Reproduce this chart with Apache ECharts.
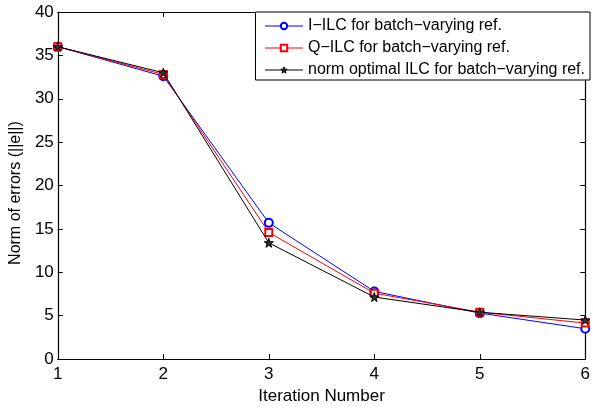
<!DOCTYPE html>
<html>
<head>
<meta charset="utf-8">
<script src="https://cdn.jsdelivr.net/npm/echarts@6/dist/echarts.min.js"></script>
<style>
html,body{margin:0;padding:0;background:#fff;}
#chart{width:593px;height:410px;}
</style>
</head>
<body>
<div id="chart"></div>
<script>
const iterations = [1, 2, 3, 4, 5, 6];
const iIlc = [36.0, 32.6, 15.7, 7.8, 5.3, 3.5];
const qIlc = [36.0, 32.8, 14.6, 7.6, 5.4, 4.15];
const normOpt = [36.0, 33.0, 13.4, 7.15, 5.4, 4.5];
const seriesNames = ['I\u2212ILC for batch\u2212varying ref.', 'Q\u2212ILC for batch\u2212varying ref.', 'norm optimal ILC for batch\u2212varying ref.'];
const yTicks = [0, 5, 10, 15, 20, 25, 30, 35, 40];

const FONT = 'Liberation Sans, Arial, Helvetica, sans-serif';
const star = 'path://M50,0 L61.8,36.2 L100,36.2 L69.1,58.8 L80.9,95.1 L50,72.4 L19.1,95.1 L30.9,58.8 L0,36.2 L38.2,36.2 Z';
const pairs = ys => iterations.map((x, i) => [x, ys[i]]);

const chart = echarts.init(document.getElementById('chart'), null, {renderer: 'canvas'});
const axisLine = {show: true, onZero: false, lineStyle: {color: '#000', width: 1.2}};
const tick = {show: true, inside: true, length: 5, lineStyle: {color: '#000', width: 1}};
chart.setOption({
  animation: false,
  backgroundColor: '#fff',
  grid: {left: 56, right: 3, top: 12, bottom: 46, containLabel: false},
  xAxis: [{
    type: 'value', min: 1, max: 6, interval: 1,
    axisLine: axisLine, axisTick: tick, splitLine: {show: false},
    axisLabel: {color: '#000', fontSize: 17, fontFamily: FONT, margin: 7},
    name: 'Iteration Number', nameLocation: 'middle', nameGap: 25,
    nameTextStyle: {color: '#000', fontSize: 17, fontFamily: FONT}
  }, {
    type: 'value', min: 1, max: 6, interval: 1, position: 'top',
    axisLine: axisLine, axisTick: tick, splitLine: {show: false}, axisLabel: {show: false}
  }],
  yAxis: [{
    type: 'value', min: 0, max: 40, interval: 5,
    axisLine: axisLine, axisTick: tick, splitLine: {show: false},
    axisLabel: {color: '#000', fontSize: 17, fontFamily: FONT, margin: 4,
      formatter: v => yTicks.includes(v) ? String(v) : ''},
    name: 'Norm of errors (||e||)', nameLocation: 'middle', nameGap: 31,
    nameTextStyle: {color: '#000', fontSize: 16, fontFamily: FONT, padding: [0, 15, 0, 0]}
  }, {
    type: 'value', min: 0, max: 40, interval: 5, position: 'right',
    axisLine: axisLine, axisTick: tick, splitLine: {show: false}, axisLabel: {show: false}
  }],
  legend: {
    right: 3, top: 12, orient: 'vertical',
    backgroundColor: '#fff', borderColor: '#000', borderWidth: 1, borderRadius: 0,
    padding: [6, 5, 2, 9], itemGap: 6, itemWidth: 38, itemHeight: 8,
    lineStyle: {width: 1},
    itemStyle: {borderWidth: 1},
    textStyle: {color: '#000', fontSize: 16, fontFamily: FONT},
    data: seriesNames
  },
  series: [
    {name: seriesNames[0], type: 'line', data: pairs(iIlc), symbol: 'emptyCircle', symbolSize: 8,
     lineStyle: {color: '#0000ff', width: 1}, itemStyle: {color: '#0000ff', borderColor: '#0000ff', borderWidth: 1}, z: 3},
    {name: seriesNames[1], type: 'line', data: pairs(qIlc), symbol: 'emptyRect', symbolSize: 7,
     lineStyle: {color: '#ff0000', width: 1}, itemStyle: {color: '#ff0000', borderColor: '#ff0000', borderWidth: 1}, z: 4},
    {name: seriesNames[2], type: 'line', data: pairs(normOpt), symbol: star, symbolSize: 9,
     lineStyle: {color: '#000', width: 1}, itemStyle: {color: '#333', borderColor: '#000', borderWidth: 1}, z: 5}
  ]
});
</script>
</body>
</html>
